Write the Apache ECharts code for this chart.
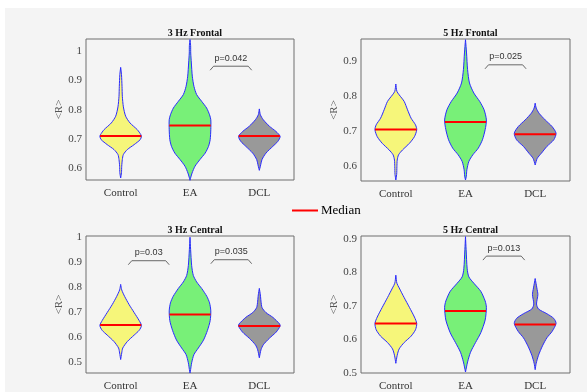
<!DOCTYPE html>
<html>
<head>
<meta charset="utf-8">
<script src="https://cdn.jsdelivr.net/npm/echarts@6/dist/echarts.min.js"></script>
<style>
html, body { margin: 0; padding: 0; background: #fff; }
#main { width: 587px; height: 392px; }
</style>
</head>
<body>
<div id="main"></div>
<script>
// groups and panels
var categories = ['Control', 'EA', 'DCL'];
var titles = ['3 Hz Frontal', '5 Hz Frontal', '3 Hz Central', '5 Hz Central'];
var yLimits = [[0.56, 1.042], [0.556, 0.963], [0.456, 1.005], [0.5, 0.909]];
var yTicks = [
    [0.6, 0.7, 0.8, 0.9, 1],
    [0.6, 0.7, 0.8, 0.9],
    [0.5, 0.6, 0.7, 0.8, 0.9, 1],
    [0.5, 0.6, 0.7, 0.8, 0.9]
];

// violin outlines: [<R> value, relative density]
var f3Control = [[0.945,0],[0.92,0.04],[0.88,0.065],[0.846,0.08],[0.81,0.13],[0.778,0.24],[0.755,0.45],[0.732,0.8],[0.715,0.97],[0.709,1],[0.698,0.94],[0.681,0.65],[0.664,0.32],[0.647,0.13],[0.63,0.08],[0.607,0.05],[0.585,0.04],[0.567,0]];
var f3EA = [[1.04,0],[1.02,0.03],[0.994,0.035],[0.96,0.065],[0.915,0.11],[0.88,0.19],[0.852,0.32],[0.829,0.56],[0.806,0.8],[0.783,0.94],[0.766,1],[0.732,1],[0.698,0.97],[0.675,0.89],[0.652,0.73],[0.63,0.48],[0.607,0.24],[0.584,0.1],[0.57,0.04],[0.559,0]];
var f3DCL = [[0.803,0],[0.783,0.05],[0.766,0.19],[0.744,0.48],[0.726,0.8],[0.709,1],[0.692,0.89],[0.675,0.65],[0.652,0.32],[0.63,0.13],[0.607,0.05],[0.593,0]];

var f5Control = [[0.834,0],[0.813,0.05],[0.803,0.16],[0.784,0.4],[0.76,0.56],[0.736,0.73],[0.717,0.94],[0.703,1],[0.683,0.89],[0.664,0.65],[0.645,0.32],[0.631,0.13],[0.616,0.065],[0.597,0.05],[0.575,0.04],[0.559,0]];
var f5EA = [[0.961,0],[0.923,0.05],[0.875,0.1],[0.837,0.19],[0.808,0.4],[0.784,0.68],[0.76,0.89],[0.731,1],[0.703,0.94],[0.674,0.81],[0.65,0.61],[0.631,0.35],[0.612,0.16],[0.588,0.065],[0.57,0.04],[0.559,0]];
var f5DCL = [[0.779,0],[0.765,0.05],[0.75,0.19],[0.731,0.48],[0.712,0.81],[0.693,1],[0.674,0.89],[0.655,0.56],[0.635,0.29],[0.621,0.1],[0.602,0]];

var c3Control = [[0.811,0],[0.789,0.05],[0.763,0.19],[0.731,0.4],[0.698,0.65],[0.666,0.89],[0.646,1],[0.627,0.89],[0.608,0.65],[0.582,0.32],[0.556,0.1],[0.536,0.05],[0.51,0]];
var c3EA = [[1.0,0],[0.951,0.03],[0.886,0.08],[0.847,0.16],[0.821,0.32],[0.795,0.56],[0.763,0.81],[0.737,0.94],[0.705,1],[0.666,0.97],[0.627,0.84],[0.588,0.65],[0.556,0.4],[0.53,0.19],[0.497,0.08],[0.47,0.03],[0.456,0]];
var c3DCL = [[0.795,0],[0.769,0.05],[0.744,0.08],[0.718,0.13],[0.698,0.32],[0.679,0.65],[0.653,0.97],[0.644,1],[0.62,0.81],[0.595,0.48],[0.569,0.19],[0.549,0.08],[0.517,0]];

var c5Control = [[0.792,0],[0.768,0.05],[0.754,0.16],[0.725,0.4],[0.696,0.65],[0.667,0.89],[0.648,1],[0.629,0.94],[0.61,0.73],[0.591,0.4],[0.572,0.16],[0.553,0.065],[0.529,0]];
var c5EA = [[0.907,0],[0.868,0.03],[0.811,0.08],[0.787,0.16],[0.768,0.4],[0.744,0.73],[0.715,0.94],[0.696,1],[0.658,0.94],[0.62,0.73],[0.591,0.48],[0.562,0.24],[0.533,0.1],[0.503,0]];
var c5DCL = [[0.782,0],[0.754,0.08],[0.734,0.13],[0.706,0.065],[0.691,0.16],[0.677,0.56],[0.663,0.89],[0.648,1],[0.624,0.81],[0.605,0.56],[0.581,0.35],[0.553,0.16],[0.529,0.05],[0.51,0]];

var violins = [
    [f3Control, f3EA, f3DCL],
    [f5Control, f5EA, f5DCL],
    [c3Control, c3EA, c3DCL],
    [c5Control, c5EA, c5DCL]
];

var medians = [
    [0.7105, 0.746, 0.71],
    [0.7035, 0.725, 0.69],
    [0.648, 0.69, 0.644],
    [0.648, 0.685, 0.645]
];

// significance brackets: [from, to, level, label]
var pTests = [
    [[1.29, 1.89, 0.949, 'p=0.042']],
    [[1.28, 1.87, 0.889, 'p=0.025']],
    [[0.11, 0.70, 0.906, 'p=0.03'], [1.30, 1.89, 0.91, 'p=0.035']],
    [[1.25, 1.85, 0.849, 'p=0.013']]
];

var gridBoxes = [
    { left: 86, top: 39, width: 208, height: 141 },
    { left: 361, top: 39, width: 209, height: 142 },
    { left: 86, top: 236, width: 208, height: 141 },
    { left: 361, top: 236, width: 209, height: 142 }
];
var fills = ['#f6f67a', '#78f078', '#999999'];
var serif = '"Liberation Serif", "Times New Roman", serif';
var halfMax = 0.3;

function densityAt(prof, v) {
    for (var k = 0; k < prof.length - 1; k++) {
        var a = prof[k], b = prof[k + 1];
        if (v <= a[0] && v >= b[0]) {
            var t = (a[0] - v) / (a[0] - b[0]);
            return a[1] + t * (b[1] - a[1]);
        }
    }
    return 0;
}

var chart = echarts.init(document.getElementById('main'));

var grids = [], xAxes = [], yAxes = [], series = [], titleList = [];

gridBoxes.forEach(function (box, i) {
    grids.push({
        left: box.left, top: box.top, width: box.width, height: box.height,
        show: true, borderColor: '#6e6e6e', borderWidth: 1, backgroundColor: 'transparent'
    });
    titleList.push({
        text: titles[i],
        left: box.left + box.width / 2,
        top: box.top - 16,
        textAlign: 'center',
        textStyle: { fontFamily: serif, fontSize: 10, fontWeight: 'bold', color: '#111' }
    });
    xAxes.push({
        type: 'value', gridIndex: i, min: -0.5, max: 2.5,
        axisLine: { show: false }, axisTick: { show: false }, splitLine: { show: false },
        axisLabel: {
            customValues: [0, 1, 2],
            margin: 8,
            fontFamily: serif, fontSize: 11, color: '#333',
            formatter: function (v) { return categories[Math.round(v)]; }
        }
    });
    yAxes.push({
        type: 'value', gridIndex: i, min: yLimits[i][0], max: yLimits[i][1],
        name: '<R>', nameLocation: 'middle', nameGap: 19, nameRotate: 90,
        nameTextStyle: { fontFamily: serif, fontSize: 11, color: '#555' },
        axisLine: { show: false }, axisTick: { show: false }, splitLine: { show: false },
        axisLabel: {
            customValues: yTicks[i],
            margin: 4,
            fontFamily: serif, fontSize: 11, color: '#444',
            formatter: function (v) { return String(Math.round(v * 100) / 100); }
        }
    });

    series.push({
        type: 'custom', xAxisIndex: i, yAxisIndex: i, silent: true,
        data: [[0], [1], [2]],
        renderItem: function (params, api) {
            var g = api.value(0);
            var prof = violins[i][g];
            var right = [], left = [];
            prof.forEach(function (p) {
                right.push(api.coord([g + p[1] * halfMax, p[0]]));
                left.push(api.coord([g - p[1] * halfMax, p[0]]));
            });
            return {
                type: 'polygon',
                shape: { points: right.concat(left.reverse()), smooth: 0.25 },
                style: { fill: fills[g], stroke: '#2a2aff', lineWidth: 1 }
            };
        }
    });

    series.push({
        name: 'Median', type: 'custom', xAxisIndex: i, yAxisIndex: i, silent: true,
        itemStyle: { color: '#ff0000' },
        data: medians[i].map(function (m, g) { return [g, m]; }),
        renderItem: function (params, api) {
            var g = api.value(0), m = api.value(1);
            var d = densityAt(violins[i][g], m) * halfMax;
            var p1 = api.coord([g - d, m]), p2 = api.coord([g + d, m]);
            return {
                type: 'line',
                shape: { x1: p1[0], y1: p1[1], x2: p2[0], y2: p2[1] },
                style: { stroke: '#ff0000', lineWidth: 2 }
            };
        }
    });

    series.push({
        type: 'custom', xAxisIndex: i, yAxisIndex: i, silent: true,
        data: pTests[i].map(function (t) { return [t[0], t[1], t[2]]; }),
        renderItem: function (params, api) {
            var a = api.coord([api.value(0), api.value(2)]);
            var b = api.coord([api.value(1), api.value(2)]);
            var label = pTests[i][params.dataIndex][3];
            return {
                type: 'group',
                children: [{
                    type: 'polyline',
                    shape: { points: [[a[0], a[1] + 4], [a[0] + 3.5, a[1]], [b[0] - 3.5, b[1]], [b[0], b[1] + 4]] },
                    style: { stroke: '#444', lineWidth: 0.8, fill: null }
                }, {
                    type: 'text',
                    x: (a[0] + b[0]) / 2, y: a[1] - 8,
                    style: {
                        text: label, fill: '#333', fontFamily: '"Liberation Sans", Arial, sans-serif',
                        fontSize: 9, align: 'center', verticalAlign: 'middle'
                    }
                }]
            };
        }
    });
});

var option = {
    animation: false,
    backgroundColor: '#f4f4f4',
    title: titleList,
    grid: grids,
    xAxis: xAxes,
    yAxis: yAxes,
    legend: {
        data: ['Median'],
        left: 292, top: 204, padding: 0,
        icon: 'rect', itemWidth: 26, itemHeight: 2,
        selectedMode: false,
        textStyle: { fontFamily: serif, fontSize: 13, color: '#000', padding: [0, 0, 0, -2] }
    },
    graphic: [
        { type: 'rect', shape: { x: 0, y: 0, width: 587, height: 8 }, style: { fill: '#ffffff' }, silent: true },
        { type: 'rect', shape: { x: 0, y: 0, width: 5, height: 392 }, style: { fill: '#ffffff' }, silent: true }
    ],
    series: series
};

chart.setOption(option);
</script>
</body>
</html>
